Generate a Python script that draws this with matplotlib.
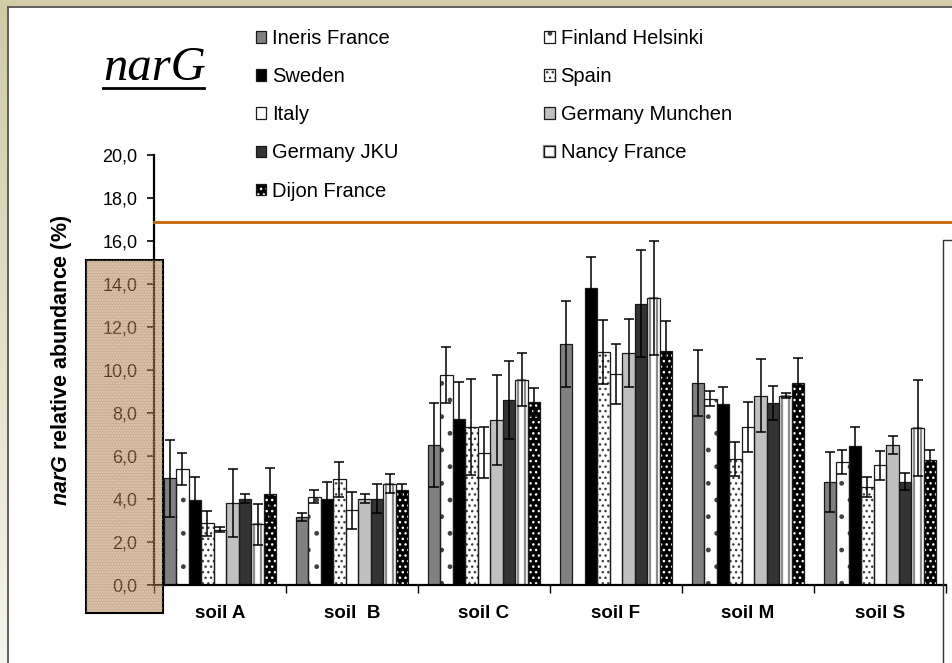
import matplotlib
matplotlib.use('Agg')
import matplotlib.pyplot as plt
from matplotlib.patches import Rectangle
from matplotlib.lines import Line2D
import numpy as np

plt.rcParams['font.family'] = 'Liberation Sans'
plt.rcParams['mathtext.fontset'] = 'custom'
plt.rcParams['mathtext.bfit'] = 'Liberation Sans:italic:bold'
plt.rcParams['hatch.linewidth'] = 1.0

# soils on the x axis
soils = ['soil A', 'soil  B', 'soil C', 'soil F', 'soil M', 'soil S']
labs = ['Ineris France', 'Finland Helsinki', 'Sweden', 'Spain', 'Italy',
        'Germany Munchen', 'Germany JKU', 'Nancy France', 'Dijon France']

# mean narG relative abundance (%) per lab, one value per soil
ineris = [4.95, 3.15, 6.5, 11.2, 9.4, 4.8]
finland = [5.4, 4.1, 9.75, np.nan, 8.65, 5.7]
sweden = [3.95, 4.0, 7.7, 13.8, 8.4, 6.45]
spain = [2.85, 4.9, 7.35, 10.85, 5.85, 4.55]
italy = [2.55, 3.45, 6.15, 9.8, 7.35, 5.55]
munchen = [3.8, 4.0, 7.65, 10.8, 8.8, 6.5]
jku = [4.0, 4.0, 8.6, 13.1, 8.45, 4.8]
nancy = [2.8, 4.7, 9.55, 13.35, 8.8, 7.3]
dijon = [4.2, 4.4, 8.5, 10.9, 9.4, 5.8]

# standard deviations
ineris_sd = [1.8, 0.17, 1.95, 2.0, 1.55, 1.4]
finland_sd = [0.75, 0.3, 1.3, np.nan, 0.35, 0.55]
sweden_sd = [1.05, 0.8, 1.75, 1.45, 0.8, 0.9]
spain_sd = [0.58, 0.8, 2.25, 1.5, 0.8, 0.45]
italy_sd = [0.12, 0.85, 1.2, 1.4, 1.15, 0.67]
munchen_sd = [1.6, 0.2, 2.1, 1.58, 1.7, 0.4]
jku_sd = [0.22, 0.67, 1.8, 2.5, 0.8, 0.38]
nancy_sd = [0.97, 0.45, 1.25, 2.65, 0.12, 2.25]
dijon_sd = [1.25, 0.3, 0.65, 1.4, 1.15, 0.46]

yticks = [0, 2, 4, 6, 8, 10, 12, 14, 16, 18, 20]
ytick_labels = ['0,0', '2,0', '4,0', '6,0', '8,0', '10,0', '12,0', '14,0', '16,0', '18,0', '20,0']

means = [ineris, finland, sweden, spain, italy, munchen, jku, nancy, dijon]
sds = [ineris_sd, finland_sd, sweden_sd, spain_sd, italy_sd, munchen_sd, jku_sd, nancy_sd, dijon_sd]

# (face, hatch, hatch colour) per lab
styles = [
    ('#808080', None, 'black'),
    ('white', '.', '#404040'),
    ('black', None, 'black'),
    ('white', '...', '#404040'),
    ('white', None, 'black'),
    ('#c0c0c0', None, 'black'),
    ('#333333', None, 'black'),
    ('white', None, 'black'),
    ('black', '...', 'white'),
]

W, H = 953, 663
fig = plt.figure(figsize=(W / 100, H / 100), dpi=100)
fig.patch.set_facecolor('white')

# beige frame: gradient strip on the left, band on top
strip = fig.add_axes([0, 0, 8 / W, 1])
grad = np.linspace(0, 1, 256)[:, None]
c_top = np.array([208, 202, 166]) / 255
c_bot = np.array([246, 245, 236]) / 255
img = c_top[None, None, :] * (1 - grad[:, :, None]) + c_bot[None, None, :] * grad[:, :, None]
strip.imshow(img, aspect='auto', extent=[0, 1, 0, 1])
strip.axis('off')
fig.add_artist(Rectangle((0, 1 - 7 / H), 1, 7 / H, transform=fig.transFigure,
                         facecolor='#d2cca8', edgecolor='none', zorder=1))
fig.add_artist(Line2D([8 / W, 1], [1 - 7 / H, 1 - 7 / H], transform=fig.transFigure,
                      color='#555555', lw=1.3, zorder=2))
fig.add_artist(Line2D([8 / W, 8 / W], [0, 1 - 7 / H], transform=fig.transFigure,
                      color='#555555', lw=1.3, zorder=2))

ax = fig.add_axes([154 / W, 1 - 584.5 / H, 792 / W, 429 / H])
ax.patch.set_visible(False)

n = len(labs)
bw = 0.095
centers = np.arange(len(soils)) + 0.5
handles = []
for j in range(n):
    x = centers + (j - (n - 1) / 2) * bw
    face, hatch, hcol = styles[j]
    fill = ax.bar(x, means[j], bw, color=face, hatch=hatch, edgecolor=hcol, lw=0, zorder=2)
    parts = [fill[0]]
    if labs[j] == 'Nancy France':
        inner = ax.bar(x, means[j], bw * 0.6, facecolor='none', edgecolor='#8a8a8a', lw=1.6, zorder=2.3)
        parts.append(inner[0])
    outline = ax.bar(x, means[j], bw, facecolor='none', edgecolor='#1a1a1a', lw=0.9, zorder=2.5)
    parts.append(outline[0])
    ax.errorbar(x, means[j], yerr=sds[j], fmt='none', ecolor='black', elinewidth=1.1,
                capsize=3.5, capthick=1.1, zorder=3)
    handles.append(tuple(parts))

ax.set_xlim(0, len(soils))
ax.set_ylim(0, 20)
ax.set_yticks(yticks)
ax.set_yticklabels(ytick_labels)
ax.set_xticks(np.arange(len(soils) + 1))
ax.set_xticklabels([])
ax.set_xticks(centers, minor=True)
ax.set_xticklabels(soils, minor=True, fontweight='bold', fontsize=13.5)
ax.tick_params(axis='x', which='major', direction='out', length=6, width=1)
ax.tick_params(axis='x', which='minor', length=0, pad=15)
ax.tick_params(axis='y', direction='out', length=5, width=1.2, labelsize=13, pad=7)
for s in ['top', 'right']:
    ax.spines[s].set_visible(False)
for s in ['left', 'bottom']:
    ax.spines[s].set_linewidth(1.6)

# y label with italic gene name
fig.text(62 / W, 1 - 360 / H, r'$\mathbfit{narG}$ relative abundance (%)', rotation=90,
         ha='center', va='center', fontsize=15.5, fontweight='bold')

# gene title, underlined
fig.text(155 / W, 1 - 68 / H, 'narG', family='Liberation Serif', style='italic',
         fontsize=35, ha='center', va='center')
fig.add_artist(Line2D([103 / W, 204 / W], [1 - 88 / H, 1 - 88 / H], transform=fig.transFigure,
                      color='black', lw=2))

# legend, two columns filled row-wise
order = [0, 2, 4, 6, 8, 1, 3, 5, 7]
fig.legend([handles[k] for k in order], [labs[k] for k in order], ncol=2,
           loc='upper left', bbox_to_anchor=(256 / W, 1 - 29 / H), frameon=False,
           fontsize=14.5, handlelength=0.5, handleheight=0.5, handletextpad=0.3,
           labelspacing=0.95, columnspacing=7.25, borderpad=0, borderaxespad=0)

# orange rule and the frame on the right
fig.add_artist(Line2D([154 / W, 1], [1 - 222 / H, 1 - 222 / H], transform=fig.transFigure,
                      color='#c8640a', lw=2, zorder=4))
fig.add_artist(Line2D([943 / W, 943 / W, 1], [0, 1 - 240 / H, 1 - 240 / H],
                      transform=fig.transFigure, color='#333333', lw=1, zorder=4))

# tan box over the lower y axis
bx, by, bw_, bh_ = 86 / W, 1 - 613 / H, 77 / W, 353 / H
fig.add_artist(Rectangle((bx, by), bw_, bh_, transform=fig.transFigure,
                         facecolor=(0.61, 0.38, 0.15, 0.5), edgecolor='black', lw=1.5, zorder=5))
fig.add_artist(Rectangle((bx, by), bw_, bh_, transform=fig.transFigure, facecolor='none',
                         hatch='......', edgecolor=(1, 1, 1, 0.35), lw=0, zorder=5))

fig.savefig('out.png', dpi=100)
